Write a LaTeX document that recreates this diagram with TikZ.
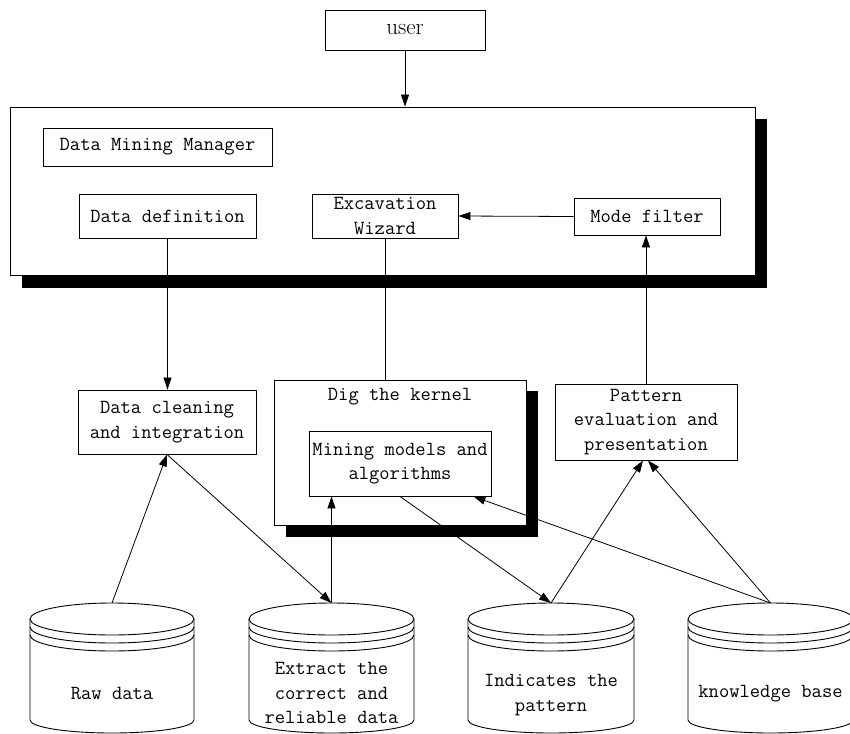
\documentclass[tikz,border=0pt]{standalone}
\usepackage{fontspec}
\usetikzlibrary{arrows.meta}
\tikzset{
  ln/.style={line width=0.8pt},
  box/.style={draw, fill=white, line width=0.9pt, inner sep=0pt,
    font=\ttfamily\fontsize{20}{24.5}\selectfont, align=center},
  txt/.style={inner sep=0pt, font=\ttfamily\fontsize{20}{24.5}\selectfont, align=center},
  shadowbox/.style={fill=black},
  arr/.style={line width=0.8pt, -{Triangle[length=12pt,width=8pt]}},
}
\newcommand\dbcyl[3]{%
  \pgfmathsetmacro\cylcx{(#1+#2)/2}%
  \pgfmathsetmacro\cylrx{(#2-#1)/2}%
  \draw[line width=0.9pt, fill=white] (#1,619) -- (#1,720)
     arc[start angle=180, end angle=360, x radius=\cylrx pt, y radius=13pt] -- (#2,619);
  \draw[line width=0.9pt, fill=white] (\cylcx,619) ellipse[x radius=\cylrx pt, y radius=16pt];
  \draw[line width=0.9pt] (#1,627) arc[start angle=180, end angle=360, x radius=\cylrx pt, y radius=16pt];
  \draw[line width=0.9pt] (#1,635) arc[start angle=180, end angle=360, x radius=\cylrx pt, y radius=16pt];
  \coordinate (#3) at (\cylcx,603);
}
\begin{document}
\begin{tikzpicture}[x=1pt, y=-1pt]
\useasboundingbox (0,0) rectangle (850,733);
\fill[white] (0,0) rectangle (850,733);

% user
\node[box, minimum width=160pt, minimum height=40pt, font=\rmfamily\fontsize{23}{26}\selectfont] (user) at (405,30) {user};

% manager frame
\fill[shadowbox] (22,119) rectangle (767,288);
\node[box, minimum width=745pt, minimum height=168pt] (mgr) at (382.5,191) {};
\node[box, minimum width=229pt, minimum height=38pt] (dmm) at (157.5,147) {Data Mining Manager};
\node[box, minimum width=177pt, minimum height=44pt] (dd) at (167.5,216) {Data definition};
\node[box, minimum width=146pt, minimum height=44pt] (exc) at (385,216) {Excavation\\Wizard};
\node[box, minimum width=146pt, minimum height=37pt] (mode) at (647,216.5) {Mode filter};

% middle row
\node[box, minimum width=178pt, minimum height=64pt] (clean) at (167,422) {Data cleaning\\and integration};
\fill[shadowbox] (286,391) rectangle (538,537);
\node[box, minimum width=252pt, minimum height=145pt] (kern) at (400,452.5) {};
\node[txt] (kernt) at (400,397) {Dig the kernel};
\node[box, minimum width=182pt, minimum height=65pt] (mine) at (400,463.5) {Mining models and\\algorithms};
\node[box, minimum width=182pt, minimum height=76pt] (pat) at (646,422) {Pattern\\evaluation and\\presentation};

% databases
\dbcyl{30}{194}{raw}
\dbcyl{249}{414}{ext}
\dbcyl{468}{634}{ind}
\dbcyl{688}{853}{kb}
\node[txt] (rawt) at (112,693) {Raw data};
\node[txt] (extt) at (331.5,693) {Extract the\\correct and\\reliable data};
\node[txt] (indt) at (551,695) {Indicates the\\pattern};
\node[txt] (kbt) at (770.5,694) {knowledge base};

% connectors
\draw[arr] (user.south) -- (user.south |- mgr.north);
\draw[arr] (mode.west) -- (exc.east);
\draw[arr] (dd.south) -- (dd.south |- clean.north);
\draw[ln] (exc.south) -- (exc.south |- kern.north);
\draw[arr] (pat.north) -- (pat.north |- mode.south);
\draw[arr] (raw) -- (clean.south);
\draw[arr] (clean.south) -- (ext);
\draw[arr] (ext) -- (ext |- mine.south);
\draw[arr] (mine.south) -- (ind);
\draw[arr] (ind) -- ([xshift=-3pt]pat.south);
\draw[arr] (kb) -- ([xshift=2pt]pat.south);
\draw[arr] (kb) -- ([xshift=-18pt]mine.south east);
\end{tikzpicture}
\end{document}
